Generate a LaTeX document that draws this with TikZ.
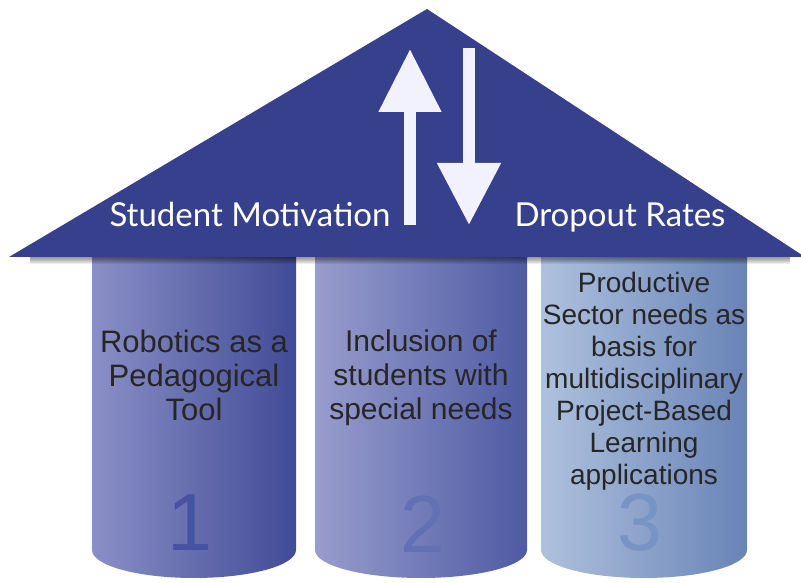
\documentclass[tikz,border=0pt]{standalone}
\usepackage{fontspec}
\setmainfont{Liberation Sans}
\newfontfamily\rooffont{Lato}
\usepackage{tikz}
\usetikzlibrary{arrows.meta,calc}
\definecolor{roofblue}{HTML}{36408C}
\definecolor{pilAleft}{HTML}{8A8FC6}
\definecolor{pilAright}{HTML}{414B96}
\definecolor{pilBleft}{HTML}{989DCD}
\definecolor{pilBright}{HTML}{4E5AA3}
\definecolor{pilCleft}{HTML}{AFC1DE}
\definecolor{pilCright}{HTML}{6883B6}
\definecolor{digitA}{HTML}{4652A2}
\definecolor{digitB}{HTML}{6370B3}
\definecolor{digitC}{HTML}{7894C4}

\begin{document}
\begin{tikzpicture}[
  x=1pt, y=1pt,
  roof/.style={fill=roofblue, draw=none},
  pillar/.style={draw=none, shading=axis, shading angle=90},
  rooflabel/.style={text=white, font=\rooffont\fontsize{33}{33}\selectfont, anchor=base, inner sep=0pt},
  pillartext/.style={text=black!85, align=center, inner sep=0pt, font=\fontsize{30}{34}\selectfont},
  digit/.style={font=\fontsize{81}{81}\selectfont, inner sep=0pt},
  bigarrow/.style={draw=white!95!blue, line width=11.5pt},
]
\useasboundingbox (0,0) rectangle (801,583);
\def\ybot{33} \def\ytop{330} \def\ry{28}
% pillars
\path[pillar, left color=pilAleft, right color=pilAright]
  (92,\ytop) -- (92,\ybot) arc[start angle=180, end angle=360, x radius=102, y radius=\ry] -- (296,\ytop) -- cycle;
\path[pillar, left color=pilBleft, right color=pilBright]
  (315,\ytop) -- (315,\ybot) arc[start angle=180, end angle=360, x radius=106, y radius=\ry] -- (527,\ytop) -- cycle;
\path[pillar, left color=pilCleft, right color=pilCright]
  (541,\ytop) -- (541,\ybot) arc[start angle=180, end angle=360, x radius=103, y radius=\ry] -- (747,\ytop) -- cycle;
% shadow below the roof
\foreach \i in {1,...,7}
  \fill[black, opacity=0.07] (30,326) rectangle (790,326-\i);
% roof
\coordinate (apex) at (427,574);
\coordinate (eaveL) at (9,326);
\coordinate (eaveR) at (805,326);
\fill[roof] (eaveL) -- (apex) -- (eaveR) -- cycle;
% arrows
\coordinate (upS) at (410,358);
\coordinate (upE) at (410,534);
\coordinate (dnS) at (469,535);
\coordinate (dnE) at (469,358);
\draw[bigarrow, -{Triangle[length=63pt, width=60pt]}] (upS) -- (upE);
\draw[bigarrow, -{Triangle[length=62pt, width=61pt]}] (dnS) -- (dnE);
\node[rooflabel] (motiv) at (250,356) {Student Motivation};
\node[rooflabel] (drop) at (620,356) {Dropout Rates};
% pillar texts
\node[pillartext, anchor=north, font=\fontsize{31}{34}\selectfont] (robot) at (194,253) {Robotics as a\\Pedagogical\\Tool};
\node[pillartext, anchor=north] (incl) at (421,253) {Inclusion of\\students with\\special needs};
\node[pillartext, font=\fontsize{28}{32}\selectfont] (prod) at (644,202) {Productive\\Sector needs as\\basis for\\multidisciplinary\\Project-Based\\Learning\\applications};
% numbers
\node[digit, text=digitA] (one) at (190,60) {1};
\node[digit, text=digitB] (two) at (423,59) {2};
\node[digit, text=digitC] (three) at (640,60) {3};
\end{tikzpicture}
\end{document}
